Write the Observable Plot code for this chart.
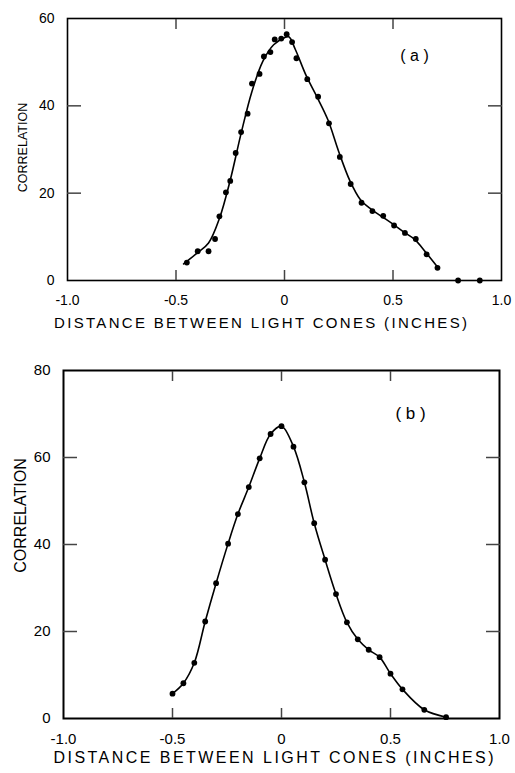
<!DOCTYPE html>
<html><head><meta charset="utf-8">
<script src="https://cdn.jsdelivr.net/npm/d3@7"></script>
<script src="https://cdn.jsdelivr.net/npm/@observablehq/plot@0.6"></script>
<style>body{margin:0;background:#fff} svg{display:block}</style>
</head><body><div id="chart"></div>
<script>
// tick values and labels
const xTicks = [-1, -0.5, 0, 0.5, 1];
const xTickLabels = ["-1.0", "-0.5", "0", "0.5", "1.0"];
const xInnerTicks = [-0.5, 0, 0.5];
const aYTicks = [0, 20, 40, 60];
const aYInnerTicks = [20, 40];
const bYTicks = [0, 20, 40, 60, 80];
const bYInnerTicks = [20, 40, 60];
const xTitle = "DISTANCE BETWEEN LIGHT CONES (INCHES)";
const yTitle = "CORRELATION";
const panelLabels = ["( a )", "( b )"];

// panel (a) measured points
const aPointX = [-0.45, -0.40, -0.35, -0.32, -0.30, -0.27, -0.25, -0.225, -0.20, -0.17, -0.15, -0.115, -0.095, -0.065, -0.045, -0.015, 0.01, 0.035, 0.055, 0.105, 0.155, 0.205, 0.255, 0.305, 0.355, 0.405, 0.455, 0.505, 0.555, 0.605, 0.655, 0.705, 0.80, 0.90];
const aPointY = [4.1, 6.7, 6.7, 9.5, 14.7, 20.2, 22.8, 29.2, 34.0, 38.2, 45.1, 47.3, 51.3, 52.3, 55.2, 55.4, 56.4, 54.6, 50.9, 46.1, 42.1, 36.0, 28.3, 22.1, 17.8, 15.9, 14.8, 12.6, 10.9, 9.5, 6.0, 2.9, 0, 0];
// panel (a) fitted curve
const aCurveX = [-0.465, -0.40, -0.35, -0.30, -0.25, -0.20, -0.15, -0.10, -0.05, 0.0, 0.02, 0.05, 0.10, 0.15, 0.20, 0.25, 0.30, 0.35, 0.40, 0.45, 0.50, 0.55, 0.60, 0.65, 0.705];
const aCurveY = [3.8, 6.4, 8.6, 14.2, 23.0, 33.7, 43.3, 50.2, 54.0, 55.6, 55.8, 52.9, 46.9, 42.0, 36.8, 29.5, 23.0, 18.5, 16.3, 14.6, 12.9, 11.1, 9.4, 6.5, 3.1];

// panel (b) measured points (curve passes through them)
const bPointX = [-0.50, -0.45, -0.40, -0.35, -0.30, -0.245, -0.20, -0.15, -0.10, -0.05, 0.0, 0.055, 0.105, 0.15, 0.20, 0.25, 0.30, 0.35, 0.40, 0.45, 0.50, 0.555, 0.655, 0.755];
const bPointY = [5.7, 8.1, 12.8, 22.3, 31.1, 40.2, 47.0, 53.2, 59.8, 65.4, 67.2, 62.5, 54.3, 44.9, 36.5, 28.6, 22.1, 18.2, 15.8, 14.1, 10.3, 6.7, 2.0, 0.3];

const fmtMap = new Map(xTicks.map((t, i) => [t, xTickLabels[i]]));
const rows = (xs, ys) => xs.map((x, i) => ({x, y: ys[i]}));
const FONT = "'Liberation Sans', Arial, sans-serif";
const TICK = "#444444";

function panel(o) {
  const TX = 10, TY = 14; // inward tick lengths (px)
  const svg = Plot.plot({
    width: 515, height: o.height,
    marginTop: o.mt, marginBottom: o.mb, marginLeft: o.ml, marginRight: o.mr,
    x: {domain: [-1, 1], label: null},
    y: {domain: [0, o.yMax], label: null},
    style: {fontFamily: FONT, fontSize: o.fs + "px"},
    marks: [
      Plot.frame({strokeWidth: o.fw}),
      // inward ticks (outward ticks shifted into the frame)
      Plot.axisX(xInnerTicks, {anchor: "bottom", tickSize: TX, dy: -TX, tickFormat: () => "", label: null, stroke: TICK, strokeWidth: 1.5}),
      Plot.axisX(xInnerTicks, {anchor: "top", tickSize: TX, dy: TX, tickFormat: () => "", label: null, stroke: TICK, strokeWidth: 1.5}),
      Plot.axisY(o.yInner, {anchor: "left", tickSize: TY, dx: TY, tickFormat: () => "", label: null, stroke: TICK, strokeWidth: 1.5}),
      Plot.axisY(o.yInner, {anchor: "right", tickSize: TY, dx: -TY, tickFormat: () => "", label: null, stroke: TICK, strokeWidth: 1.5}),
      // tick labels
      Plot.axisX(xTicks, {anchor: "bottom", tickSize: 0, tickPadding: o.xpad, tickFormat: d => fmtMap.get(d), label: null}),
      Plot.axisY(o.yTicks, {anchor: "left", tickSize: 0, tickPadding: o.ypad, label: null}),
      // data
      Plot.line(o.curve, {x: "x", y: "y", curve: "catmull-rom", strokeWidth: 1.6}),
      Plot.dot(o.points, {x: "x", y: "y", r: 2.9, fill: "currentColor"}),
      // texts
      Plot.text([o.tag], {frameAnchor: "top-right", dx: o.tagDx, dy: o.tagDy, fontSize: o.fs + 2, textAnchor: "middle", lineAnchor: "middle"}),
      Plot.text([xTitle], {frameAnchor: "bottom", dx: o.titleDx, dy: o.titleDy, fontSize: o.fs + 1, textAnchor: "middle", lineAnchor: "middle", className: "xtitle"}),
      Plot.text([yTitle], {frameAnchor: "left", rotate: -90, dx: o.ylDx, dy: o.ylDy, fontSize: o.ylFs, textAnchor: "middle", lineAnchor: "middle"})
    ]
  });
  d3.select(svg).selectAll(".xtitle text").attr("textLength", o.titleLen).attr("lengthAdjust", "spacing");
  return svg;
}

const A = panel({
  height: 335, mt: 18, mb: 55, ml: 67, mr: 14, yMax: 60, fs: 14, fw: 1.6,
  yTicks: aYTicks, yInner: aYInnerTicks, xpad: 15, ypad: 13,
  points: rows(aPointX, aPointY), curve: rows(aCurveX, aCurveY),
  tag: panelLabels[0], tagDx: -87, tagDy: 37,
  titleDx: -24, titleDy: 43, titleLen: 413,
  ylDx: -45, ylDy: -2, ylFs: 12.5
});
const B = panel({
  height: 438, mt: 35, mb: 55, ml: 63, mr: 16, yMax: 80, fs: 15, fw: 2,
  yTicks: bYTicks, yInner: bYInnerTicks, xpad: 15, ypad: 13,
  points: rows(bPointX, bPointY), curve: rows(bPointX, bPointY),
  tag: panelLabels[1], tagDx: -89, tagDy: 43,
  titleDx: -8, titleDy: 39, titleLen: 440,
  ylDx: -43, ylDy: -29, ylFs: 16
});
document.getElementById("chart").append(A, B);
</script>
</body></html>
